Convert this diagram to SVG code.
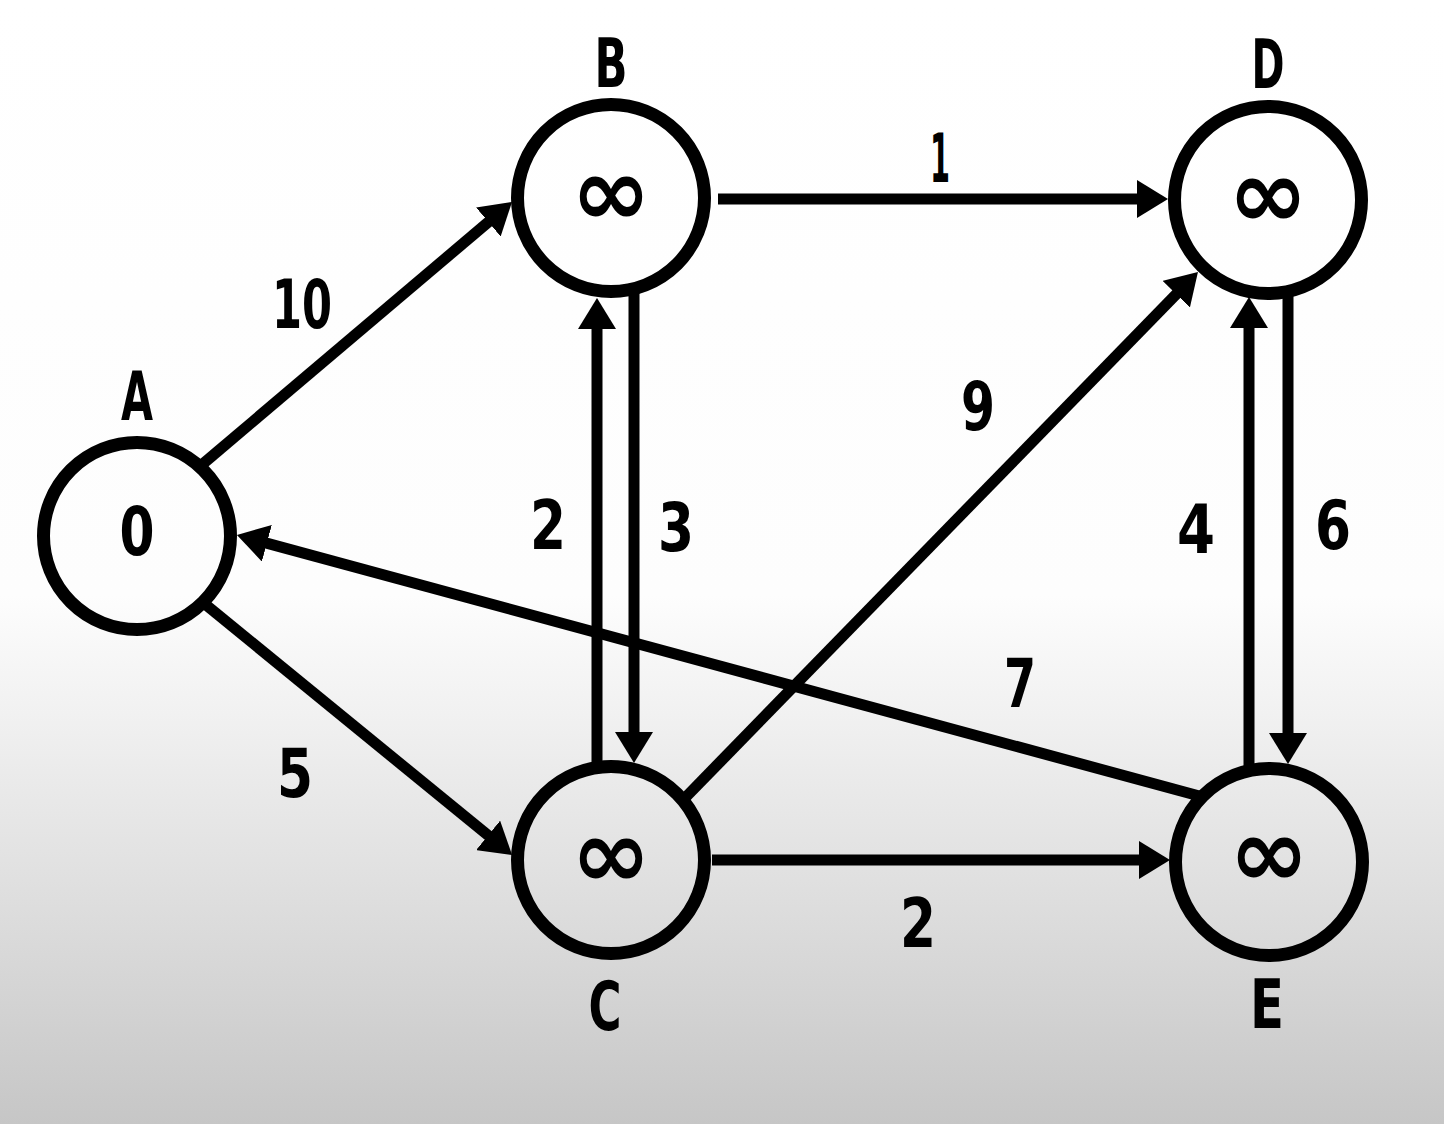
<svg xmlns="http://www.w3.org/2000/svg" width="1444" height="1124" viewBox="0 0 1444 1124">
<defs>
<linearGradient id="bg" x1="0" y1="0" x2="0" y2="1124" gradientUnits="userSpaceOnUse">
<stop offset="0" stop-color="#ffffff"/>
<stop offset="0.53" stop-color="#fdfdfd"/>
<stop offset="0.8" stop-color="#dedede"/>
<stop offset="1" stop-color="#c6c6c6"/>
</linearGradient>
<marker id="arr" viewBox="0 0 31 38" refX="7" refY="19" markerWidth="31" markerHeight="38" markerUnits="userSpaceOnUse" orient="auto">
<path d="M0,0 L31,19 L0,38 z" fill="#000"/>
</marker>
</defs>
<style>
.edge{stroke:#000;stroke-width:11;fill:none;marker-end:url(#arr)}
.node circle{fill:none;stroke:#000;stroke-width:13}
.t{font-family:"DejaVu Sans Condensed","DejaVu Sans",sans-serif;font-weight:bold;font-size:68px;fill:#000;text-anchor:middle}
.inf{font-family:"DejaVu Sans","Liberation Sans",sans-serif;font-weight:bold;font-size:96px;fill:#000;text-anchor:middle}
</style>
<rect width="1444" height="1124" fill="url(#bg)"/>
<g id="connectors">
<line class="edge" x1="198" y1="468" x2="493.7" y2="217.5"/>
<line class="edge" x1="718" y1="199" x2="1144" y2="199"/>
<line class="edge" x1="200" y1="600" x2="493.5" y2="839.8"/>
<line class="edge" x1="682" y1="801" x2="1181.2" y2="289.2"/>
<line class="edge" x1="1203" y1="797" x2="260.1" y2="541.4"/>
<line class="edge" x1="712" y1="860" x2="1146" y2="860"/>
<line class="edge" x1="597" y1="767" x2="597" y2="322"/>
<line class="edge" x1="634" y1="289" x2="634" y2="739"/>
<line class="edge" x1="1249" y1="770" x2="1249" y2="321"/>
<line class="edge" x1="1288" y1="290" x2="1288" y2="740"/>
</g>
<g id="edge-labels">
<text class="t" x="302" y="328" textLength="60" lengthAdjust="spacingAndGlyphs">10</text>
<text class="t" x="940" y="182" textLength="20" lengthAdjust="spacingAndGlyphs">1</text>
<text class="t" x="978" y="430" textLength="34" lengthAdjust="spacingAndGlyphs">9</text>
<text class="t" x="548" y="549" textLength="36" lengthAdjust="spacingAndGlyphs">2</text>
<text class="t" x="676" y="551" textLength="36" lengthAdjust="spacingAndGlyphs">3</text>
<text class="t" x="1196" y="553" textLength="38" lengthAdjust="spacingAndGlyphs">4</text>
<text class="t" x="1333" y="549" textLength="36" lengthAdjust="spacingAndGlyphs">6</text>
<text class="t" x="1020" y="707" textLength="32" lengthAdjust="spacingAndGlyphs">7</text>
<text class="t" x="295" y="797" textLength="36" lengthAdjust="spacingAndGlyphs">5</text>
<text class="t" x="918" y="947" textLength="36" lengthAdjust="spacingAndGlyphs">2</text>
</g>
<g id="node-A" class="node">
<circle cx="137" cy="536" r="93.5"/>
<text class="t" x="137" y="420" textLength="32" lengthAdjust="spacingAndGlyphs">A</text>
<text class="t" x="137" y="555" textLength="35" lengthAdjust="spacingAndGlyphs">0</text>
</g>
<g id="node-B" class="node">
<circle cx="611" cy="198" r="93.5"/>
<text class="t" x="611" y="87" textLength="33" lengthAdjust="spacingAndGlyphs">B</text>
<text class="inf" x="611" y="225">∞</text>
</g>
<g id="node-D" class="node">
<circle cx="1268" cy="200" r="93.5"/>
<text class="t" x="1268" y="88" textLength="33" lengthAdjust="spacingAndGlyphs">D</text>
<text class="inf" x="1268" y="227">∞</text>
</g>
<g id="node-C" class="node">
<circle cx="611" cy="860" r="93.5"/>
<text class="t" x="605" y="1030" textLength="33" lengthAdjust="spacingAndGlyphs">C</text>
<text class="inf" x="611" y="887">∞</text>
</g>
<g id="node-E" class="node">
<circle cx="1269" cy="862" r="93.5"/>
<text class="t" x="1267" y="1028" textLength="34" lengthAdjust="spacingAndGlyphs">E</text>
<text class="inf" x="1269" y="886">∞</text>
</g>
</svg>
